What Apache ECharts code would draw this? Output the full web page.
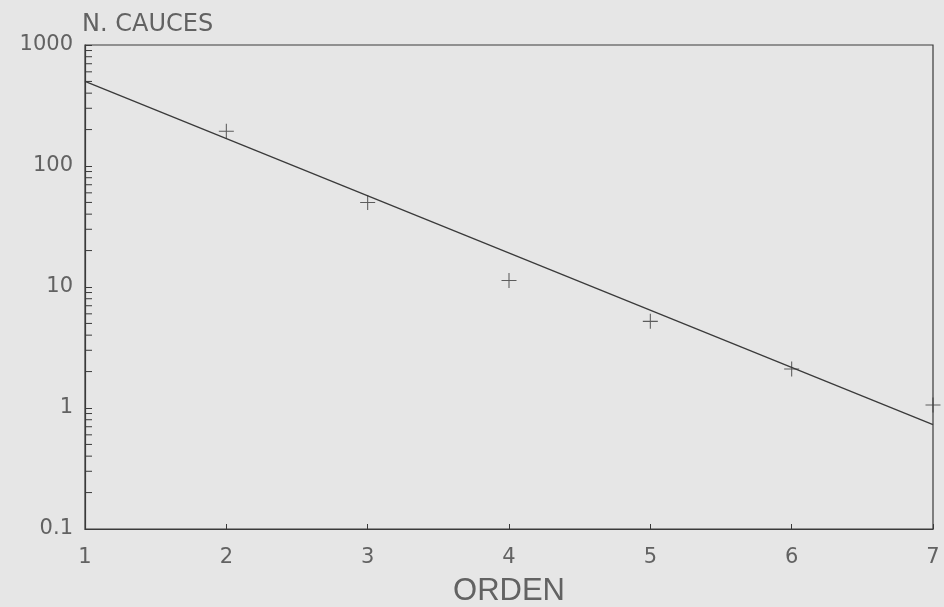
<!DOCTYPE html>
<html>
<head>
<meta charset="utf-8">
<style>
  html, body { margin: 0; padding: 0; background: #e6e6e6; }
  #chart { width: 944px; height: 607px; }
</style>
<script src="https://cdn.jsdelivr.net/npm/echarts@6/dist/echarts.min.js"></script>
</head>
<body>
<div id="chart"></div>
<script>
// Stream order (Strahler) and number of channels per order
const orden = [2, 3, 4, 5, 6, 7];
const nCauces = [194, 50, 11.3, 5.2, 2.1, 1.06];

// Fitted regression line, given by its two end points
const ajusteX = [1, 7];
const ajusteY = [500, 0.73];

// Logarithmic minor tick values (2..9 of each decade)
const menores = [
  0.2, 0.3, 0.4, 0.5, 0.6, 0.7, 0.8, 0.9,
  2, 3, 4, 5, 6, 7, 8, 9,
  20, 30, 40, 50, 60, 70, 80, 90,
  200, 300, 400, 500, 600, 700, 800, 900
];

const ink = '#3a3a3a';
const textGray = '#626262';
const font = "'DejaVu Sans', 'Liberation Sans', sans-serif";

const chart = echarts.init(document.getElementById('chart'), null, { renderer: 'canvas' });

chart.setOption({
  backgroundColor: '#e6e6e6',
  animation: false,
  grid: {
    left: 85, top: 45, width: 848, height: 484,
    outerBoundsMode: 'none', containLabel: false,
    show: true, borderColor: ink, borderWidth: 1.2, backgroundColor: 'transparent'
  },
  xAxis: {
    type: 'value', min: 1, max: 7, interval: 1,
    name: 'ORDEN', nameLocation: 'middle', nameGap: 47,
    nameTextStyle: { color: textGray, fontSize: 31, fontFamily: "'Liberation Sans', sans-serif" },
    axisLine: { show: true, lineStyle: { color: ink, width: 1.2 } },
    axisTick: { show: true, inside: true, length: 5, lineStyle: { color: ink } },
    axisLabel: { color: textGray, fontSize: 21, fontFamily: font, margin: 18 },
    splitLine: { show: false }
  },
  yAxis: {
    type: 'log', logBase: 10, min: 0.1, max: 1000,
    name: 'N. CAUCES', nameLocation: 'end', nameGap: 8,
    nameTextStyle: { color: textGray, fontSize: 24, fontFamily: font, align: 'left', padding: [0, 0, 0, -3] },
    axisLine: { show: true, lineStyle: { color: ink, width: 1.2 } },
    axisTick: { show: true, inside: true, length: 7, lineStyle: { color: ink } },
    axisLabel: {
      color: textGray, fontSize: 21, fontFamily: font, margin: 12,
      padding: [8, 0, 0, 0],
      formatter: v => String(v)
    },
    splitLine: { show: false }
  },
  series: [
    {
      // minor ticks drawn inside the left axis
      type: 'custom',
      silent: true,
      data: menores.map(v => [1, v]),
      renderItem: (params, api) => {
        const p = api.coord([api.value(0), api.value(1)]);
        return {
          type: 'line',
          shape: { x1: p[0], y1: p[1], x2: p[0] + 7, y2: p[1] },
          style: { stroke: ink, lineWidth: 1 }
        };
      },
      z: 3
    },
    {
      type: 'line',
      data: ajusteX.map((x, i) => [x, ajusteY[i]]),
      symbol: 'none',
      lineStyle: { color: ink, width: 1.3 },
      z: 4
    },
    {
      type: 'scatter',
      data: orden.map((x, i) => [x, nCauces[i]]),
      symbol: 'path://M9.3,0H10.7V20H9.3ZM0,9.3H20V10.7H0Z',
      symbolSize: 15,
      itemStyle: { color: ink },
      z: 5
    }
  ]
});
</script>
</body>
</html>
